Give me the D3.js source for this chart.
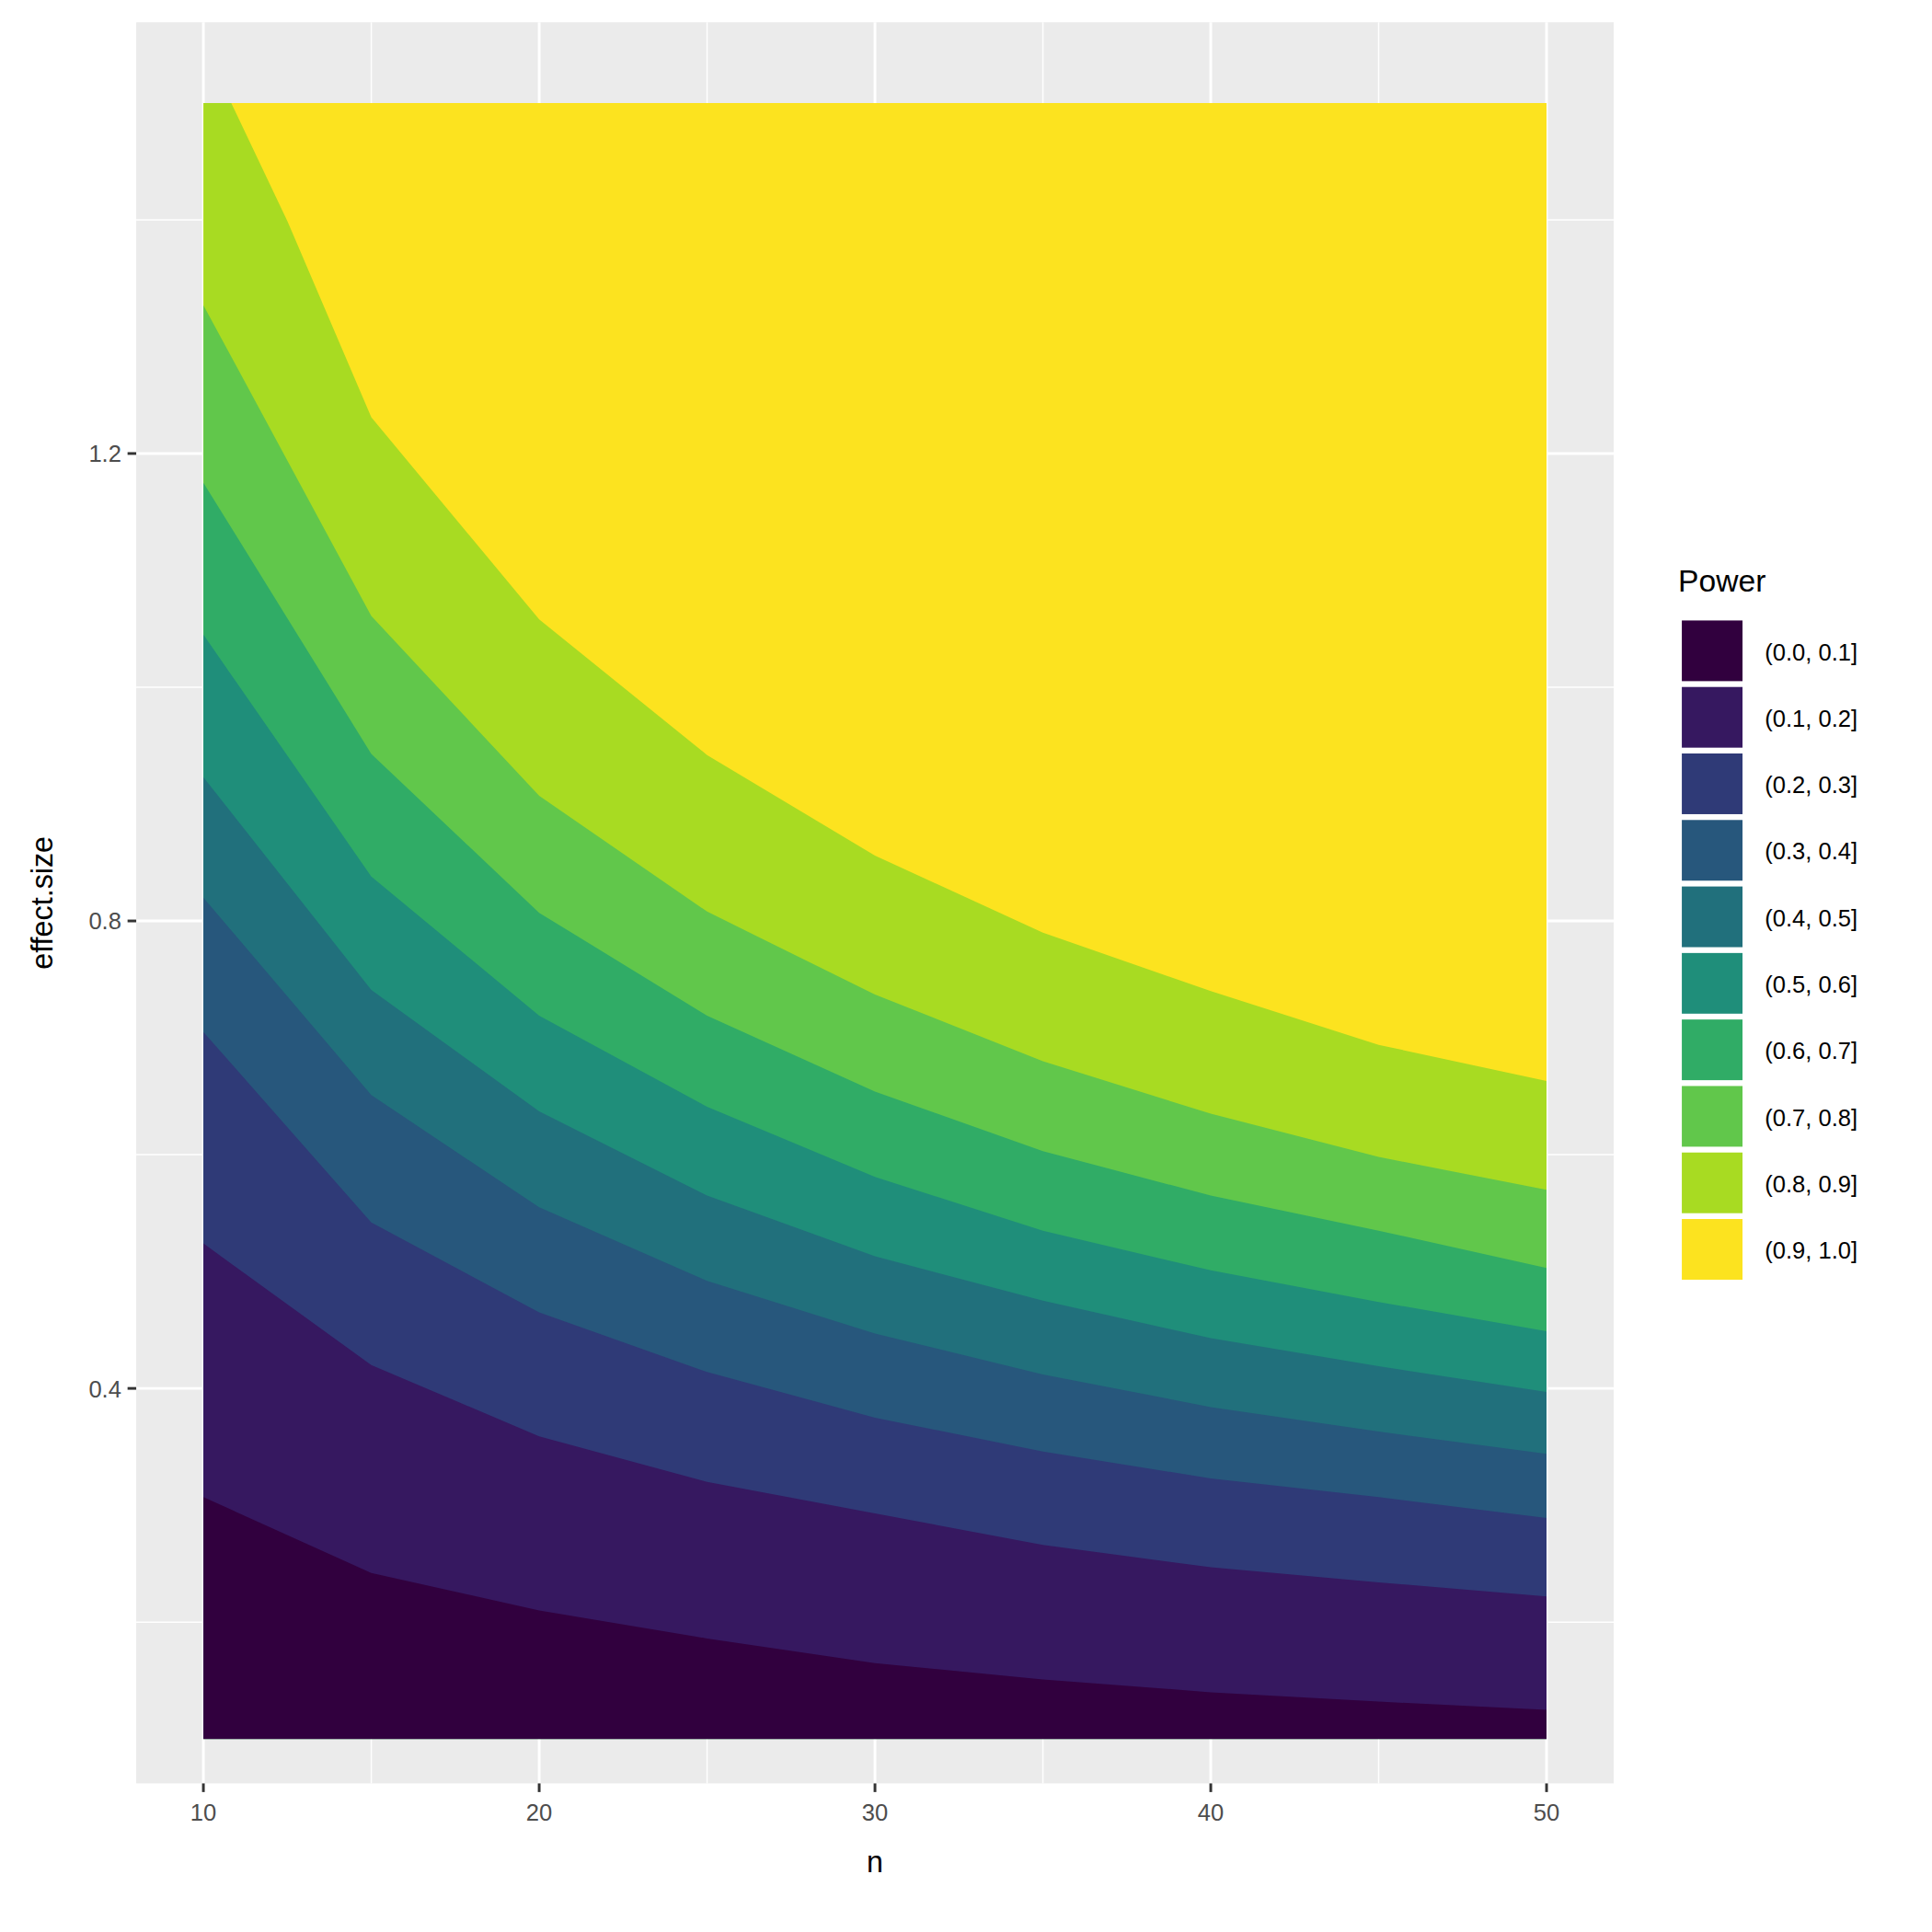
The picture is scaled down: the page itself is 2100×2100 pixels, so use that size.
<!DOCTYPE html><html><head><meta charset="utf-8"><script src="https://cdn.jsdelivr.net/npm/d3@7"></script>
<style>body{margin:0;background:#fff}</style></head><body><script>
const nValues=[10,15,20,25,30,35,40,45,50];
const b01=[0.307,0.242,0.210,0.186,0.165,0.151,0.140,0.132,0.125];
const b02=[0.524,0.420,0.359,0.320,0.293,0.266,0.247,0.234,0.222];
const b03=[0.705,0.542,0.465,0.414,0.375,0.346,0.323,0.307,0.289];
const b04=[0.820,0.651,0.555,0.492,0.447,0.412,0.384,0.363,0.344];
const b05=[0.923,0.741,0.637,0.565,0.513,0.475,0.443,0.419,0.397];
const b06=[1.045,0.838,0.719,0.641,0.581,0.535,0.501,0.474,0.449];
const b07=[1.175,0.943,0.807,0.719,0.654,0.603,0.565,0.535,0.503];
const b08=[1.327,1.061,0.907,0.808,0.737,0.680,0.635,0.598,0.570];
const n09=[10,12.5,15,20,25,30,35,40,45,50];
const b09=[1.55,1.399,1.231,1.058,0.942,0.856,0.790,0.740,0.694,0.663];
const levels=["(0.0, 0.1]","(0.1, 0.2]","(0.2, 0.3]","(0.3, 0.4]","(0.4, 0.5]","(0.5, 0.6]","(0.6, 0.7]","(0.7, 0.8]","(0.8, 0.9]","(0.9, 1.0]"];
const colors=["#31003E","#361860","#2F3A77","#27577C","#21707C","#1F8E7A","#30AC66","#61C74B","#A8DB22","#FCE31F"];
const xTicks=[10,20,30,40,50], yTicks=[0.4,0.8,1.2];
const esMin=0.1, esMax=1.5;

const svg=d3.select("body").append("svg").attr("width",2100).attr("height",2100).attr("viewBox","0 0 1560 1560");
const L=110,R=1303,T=18,B=1440;
const x=d3.scaleLinear().domain([8,52]).range([L,R]);
const y=d3.scaleLinear().domain([0.062,1.569]).range([B,T]);
svg.append("rect").attr("x",L).attr("y",T).attr("width",R-L).attr("height",B-T).attr("fill","#EBEBEB");
[15,25,35,45].forEach(v=>svg.append("line").attr("x1",x(v)).attr("x2",x(v)).attr("y1",T).attr("y2",B).attr("stroke","#fff").attr("stroke-width",1.1));
[0.2,0.6,1.0,1.4].forEach(v=>svg.append("line").attr("y1",y(v)).attr("y2",y(v)).attr("x1",L).attr("x2",R).attr("stroke","#fff").attr("stroke-width",1.1));
xTicks.forEach(v=>svg.append("line").attr("x1",x(v)).attr("x2",x(v)).attr("y1",T).attr("y2",B).attr("stroke","#fff").attr("stroke-width",2.2));
yTicks.forEach(v=>svg.append("line").attr("y1",y(v)).attr("y2",y(v)).attr("x1",L).attr("x2",R).attr("stroke","#fff").attr("stroke-width",2.2));
svg.append("clipPath").attr("id","c").append("rect").attr("x",x(10)).attr("y",y(esMax)).attr("width",x(50)-x(10)).attr("height",y(esMin)-y(esMax));
const g=svg.append("g").attr("clip-path","url(#c)");
g.append("rect").attr("x",x(10)).attr("y",y(esMax)).attr("width",x(50)-x(10)).attr("height",y(esMin)-y(esMax)).attr("fill",colors[9]);
const area=d3.area().x(d=>x(d[0])).y0(y(esMin)).y1(d=>y(d[1]));
const bounds=[[nValues,b01],[nValues,b02],[nValues,b03],[nValues,b04],[nValues,b05],[nValues,b06],[nValues,b07],[nValues,b08],[n09,b09]];
for(let k=8;k>=0;k--){const [ns,bs]=bounds[k];
 g.append("path").attr("d",area(ns.map((n,i)=>[n,bs[i]]))).attr("fill",colors[k]);}
const font="Liberation Sans, Arial, sans-serif";
xTicks.forEach(v=>{svg.append("line").attr("x1",x(v)).attr("x2",x(v)).attr("y1",B).attr("y2",B+7).attr("stroke","#333").attr("stroke-width",2.2);
 svg.append("text").attr("x",x(v)).attr("y",B+30).attr("text-anchor","middle").attr("font-family",font).attr("font-size",19).attr("fill","#4D4D4D").text(v);});
yTicks.forEach(v=>{svg.append("line").attr("x1",L-7).attr("x2",L).attr("y1",y(v)).attr("y2",y(v)).attr("stroke","#333").attr("stroke-width",2.2);
 svg.append("text").attr("x",L-12).attr("y",y(v)+7).attr("text-anchor","end").attr("font-family",font).attr("font-size",19).attr("fill","#4D4D4D").text(v.toFixed(1));});
svg.append("text").attr("x",(L+R)/2).attr("y",1512).attr("text-anchor","middle").attr("font-family",font).attr("font-size",24).text("n");
svg.append("text").attr("transform",`translate(42,${(T+B)/2}) rotate(-90)`).attr("text-anchor","middle").attr("font-family",font).attr("font-size",24).text("effect.size");
svg.append("text").attr("x",1355).attr("y",478).attr("font-family",font).attr("font-size",25).text("Power");
levels.forEach((l,i)=>{const yy=500+i*53.7;
 svg.append("rect").attr("x",1357).attr("y",yy).attr("width",51).attr("height",51).attr("fill",colors[i]).attr("stroke","#fff").attr("stroke-width",2);
 svg.append("text").attr("x",1425).attr("y",yy+33).attr("font-family",font).attr("font-size",19).text(l);});
</script></body></html>
